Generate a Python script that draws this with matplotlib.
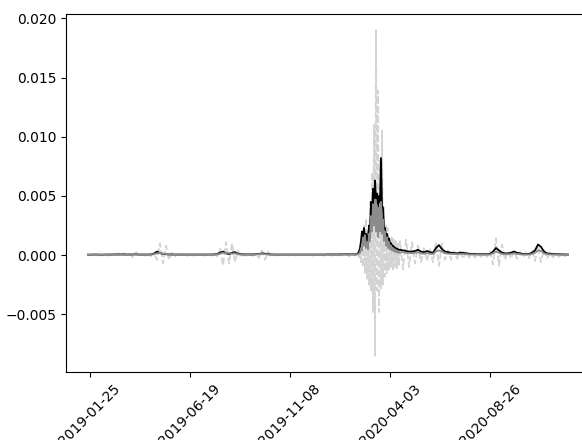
import numpy as np
import matplotlib
matplotlib.use("Agg")
import matplotlib.pyplot as plt

# trading-day index of each sample (coarse in calm periods, daily around the spike)
day = np.r_[0:265:3, 266:313, 315:481:3]

SCALE = 1e-5  # values below are in units of 1e-5

black_vals = [
    4, 4, 5, 5, 4, 4, 5, 5, 5, 6,
    6, 6, 6, 5, 5, 6, 6, 5, 5, 5,
    5, 6, 12, 30, 18, 10, 8, 6, 5, 5,
    5, 5, 5, 5, 5, 5, 5, 5, 5, 5,
    5, 5, 6, 8, 20, 30, 15, 10, 20, 25,
    12, 8, 6, 6, 6, 6, 8, 10, 15, 12,
    8, 6, 5, 5, 5, 5, 5, 5, 5, 5,
    5, 5, 5, 5, 5, 5, 5, 5, 5, 5,
    6, 6, 6, 6, 6, 7, 7, 7, 7,
    6, 6, 8, 10, 15, 30, 60, 120, 200, 150,
    230, 130, 180, 110, 150, 250, 200, 450, 320, 560,
    400, 630, 480, 520, 380, 500, 450, 820, 420, 400,
    220, 230, 160, 180, 130, 140, 100, 100, 80, 80,
    65, 65, 55, 55, 48, 45, 45,
    40, 35, 30, 30, 35, 45, 30, 25, 35, 25,
    20, 60, 85, 50, 30, 25, 20, 18, 15, 20,
    20, 15, 12, 10, 10, 8, 8, 8, 8, 10,
    30, 60, 40, 20, 15, 15, 20, 30, 20, 15,
    10, 8, 10, 20, 40, 90, 70, 30, 15, 12,
    10, 8, 8, 6, 6, 5,
]

grey_vals = [
    3, 3, 3, 3, 3, 3, 3, 3, 3, 4,
    5, 4, 5, 4, 4, 5, 6, 4, 3, 3,
    3, 4, 8, 15, 20, 12, 10, 5, 4, 3,
    3, 3, 3, 3, 3, 3, 3, 3, 3, 3,
    3, 3, 3, 5, 12, 20, 15, 20, 12, 15,
    8, 5, 4, 3, 3, 3, 5, 8, 10, 8,
    5, 4, 3, 3, 3, 3, 3, 3, 3, 3,
    3, 3, 3, 3, 3, 3, 3, 3, 3, 3,
    3, 3, 3, 3, 3, 4, 4, 4, 5,
    3, 5, 4, 8, 6, 15, 20, 60, 40, 150,
    80, 170, 60, 110, 50, 180, 120, 330, 200, 430,
    250, 470, 200, 420, 150, 400, 200, 450, 180, 300,
    120, 200, 80, 150, 60, 110, 50, 80, 40, 60,
    30, 45, 25, 35, 20, 30, 20,
    25, 20, 18, 15, 20, 25, 15, 12, 18, 12,
    10, 30, 40, 30, 15, 12, 10, 10, 8, 10,
    10, 8, 6, 5, 5, 4, 4, 4, 4, 5,
    15, 30, 20, 10, 8, 8, 10, 15, 10, 8,
    5, 4, 5, 10, 20, 40, 35, 15, 8, 6,
    5, 4, 4, 3, 3, 3,
]

light_vals = [
    3, -3, 4, -4, 3, -3, 4, -4, 5, -8,
    15, -15, 15, -8, 10, -20, 25, -10, 5, -5,
    5, -8, 20, -40, 100, -70, 80, -40, 20, -10,
    8, -5, 5, -5, 4, -4, 4, -4, 5, -5,
    5, -5, 8, -20, 60, -90, 110, -70, 100, -60,
    40, -20, 10, -8, 6, -6, 10, -25, 40, -40,
    30, -10, 5, -4, 3, -3, 4, -4, 3, -3,
    4, -4, 3, -3, 4, -4, 3, -3, 4, -5,
    5, -5, 6, -6, 8, -8, 10, -10, 10,
    5, -5, 10, -10, 20, -20, 60, -60, 150, -100,
    250, -150, 310, -200, 200, -250, 450, -300, 700, -480,
    1100, -850, 1900, -300, 1390, -480, 800, -280, 1050, -250,
    400, -180, 250, -150, 230, -120, 150, -100, 150, -120,
    130, -100, 120, -110, 100, -90, 120,
    -120, 130, -100, 110, -70, 80, -60, 60, -50, 50,
    -60, 110, -90, 100, -40, 40, -40, 35, -30, 30,
    -30, 25, -20, 20, -20, 15, -15, 15, -15, 30,
    -80, 140, -90, 90, -40, 35, -30, 35, -30, 25,
    -20, 20, -25, 40, -50, 80, -60, 50, -30, 20,
    -20, 15, -15, 15, -10, 10,
]

tick_days = [2, 102, 202, 302, 402]
tick_labels = ["2019-01-25", "2019-06-19", "2019-11-08", "2020-04-03", "2020-08-26"]

black = np.array(black_vals) * SCALE
grey = np.array(grey_vals) * SCALE
light = np.array(light_vals) * SCALE

fig = plt.figure(figsize=(5.82, 4.40), dpi=100)
ax = fig.add_axes([66 / 582, 68 / 440, 530 / 582, 358 / 440])

ax.plot(day, light, color="lightgrey", linestyle="--", linewidth=1.3, zorder=1)
ax.plot(day, black, color="black", linewidth=1.3, zorder=2)
ax.plot(day, grey, color="#8c8c8c", linewidth=1.3, zorder=3)

ax.set_xlim(-22, 508)
ax.set_xticks(tick_days)
ax.set_xticklabels(tick_labels, rotation=45)

fig.savefig("out.png", dpi=100)
